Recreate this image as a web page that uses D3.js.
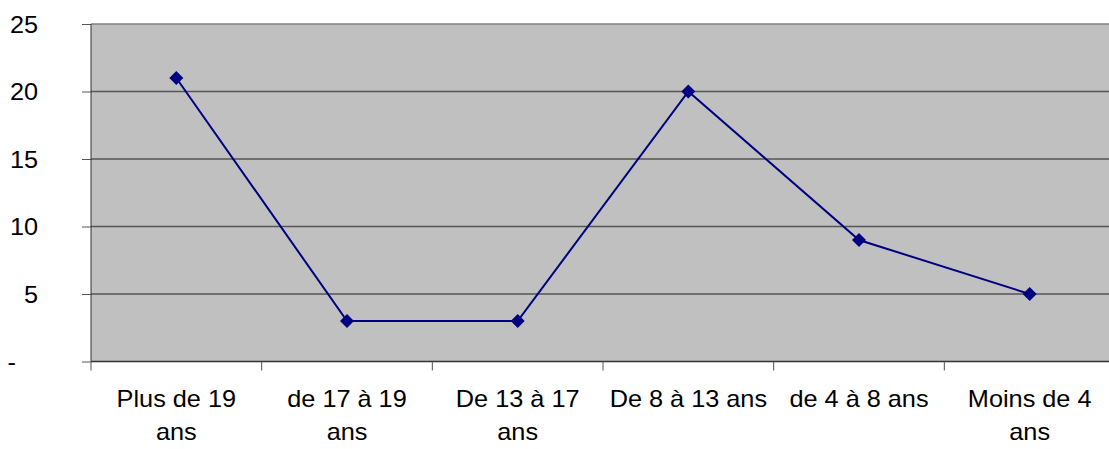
<!DOCTYPE html>
<html>
<head>
<meta charset="utf-8">
<script src="https://cdn.jsdelivr.net/npm/d3@7"></script>
<style>
  body { margin: 0; background: #fff; }
  text { font-family: "Liberation Sans", Arial, sans-serif; fill: #000; }
</style>
</head>
<body>
<div id="plotarea"></div>
<script>
// categories (line breaks as in the original)
var categories = ["Plus de 19\nans", "de 17 à 19\nans", "De 13 à 17\nans", "De 8 à 13 ans", "de 4 à 8 ans", "Moins de 4\nans"];
var values = [21, 3, 3, 20, 9, 5];
var yTicks = [0, 5, 10, 15, 20, 25];
var yTickLabels = ["-", "5", "10", "15", "20", "25"];

var W = 1109, H = 449;
var margin = {top: 24, right: -6, bottom: 87.5, left: 91},
    width = W - margin.left - margin.right,
    height = H - margin.top - margin.bottom;

var svg = d3.select("#plotarea")
  .append("svg")
    .attr("width", W)
    .attr("height", H)
  .append("g")
    .attr("transform", "translate(" + margin.left + "," + margin.top + ")");

var x = d3.scaleBand()
  .domain(d3.range(categories.length))
  .range([0, width]);

var y = d3.scaleLinear()
  .domain([0, 25])
  .range([height, 0]);

// plot background
svg.append("rect")
  .attr("x", 0).attr("y", 0)
  .attr("width", width).attr("height", height)
  .style("fill", "#c0c0c0");

// gridlines
svg.append("g")
  .selectAll("line")
  .data(yTicks.slice(1))
  .enter()
  .append("line")
    .attr("x1", 0).attr("x2", width)
    .attr("y1", function(d) { return y(d); })
    .attr("y2", function(d) { return y(d); })
    .style("stroke", function(d) { return d == 25 ? "#808080" : "#555"; })
    .style("stroke-width", 1.5);

// Y axis
var yAxis = svg.append("g")
  .call(d3.axisLeft(y).tickValues(yTicks).tickSize(9).tickPadding(0)
    .tickFormat(function(d, i) { return yTickLabels[i]; }));
yAxis.select(".domain").remove();
yAxis.selectAll(".tick line").style("stroke", "#555");
yAxis.selectAll("text").remove();
yAxis.selectAll(".tick").append("text")
  .attr("text-anchor", "end")
  .attr("dy", "0.36em")
  .attr("transform", "translate(-53,0) scale(1.1,1)")
  .style("font-size", "23px")
  .text(function(d, i) { return yTickLabels[i]; })
  .filter(function(d) { return d == 0; })
  .attr("transform", "translate(-75,0) scale(1.1,1)");

svg.append("line")
  .attr("x1", 0).attr("x2", 0).attr("y1", 0).attr("y2", height)
  .style("stroke", "#333").style("stroke-width", 1);

// X axis: ticks at band boundaries
var xAxis = svg.append("g")
  .attr("transform", "translate(0," + height + ")");
xAxis.append("line")
  .attr("x1", 0).attr("x2", width)
  .style("stroke", "#333").style("stroke-width", 1.5);
xAxis.selectAll(".bound")
  .data(d3.range(categories.length))
  .enter()
  .append("line")
    .attr("class", "bound")
    .attr("x1", function(d) { return x(d); })
    .attr("x2", function(d) { return x(d); })
    .attr("y1", 0).attr("y2", 9)
    .style("stroke", "#555");

var lab = xAxis.selectAll(".lab")
  .data(categories)
  .enter()
  .append("text")
    .attr("class", "lab")
    .attr("text-anchor", "middle")
    .style("font-size", "23px")
    .attr("transform", function(d, i) {
      return "translate(" + (x(i) + x.bandwidth() / 2) + ",45.5) scale(1.1,1)";
    });
lab.selectAll("tspan")
  .data(function(d) { return d.split("\n"); })
  .enter()
  .append("tspan")
    .attr("x", 0)
    .attr("dy", function(d, i) { return i == 0 ? 0 : 33; })
    .text(function(d) { return d; });

// line
var line = d3.line()
  .x(function(d, i) { return x(i) + x.bandwidth() / 2; })
  .y(function(d) { return y(d); });

svg.append("path")
  .datum(values)
  .attr("d", line)
  .style("fill", "none")
  .style("stroke", "#000080")
  .style("stroke-width", 2);

// diamond markers
svg.append("g")
  .selectAll("path")
  .data(values)
  .enter()
  .append("path")
    .attr("transform", function(d, i) {
      return "translate(" + (x(i) + x.bandwidth() / 2) + "," + y(d) + ")";
    })
    .attr("d", "M0,-7L7,0L0,7L-7,0Z")
    .style("fill", "#000080");
</script>
</body>
</html>
